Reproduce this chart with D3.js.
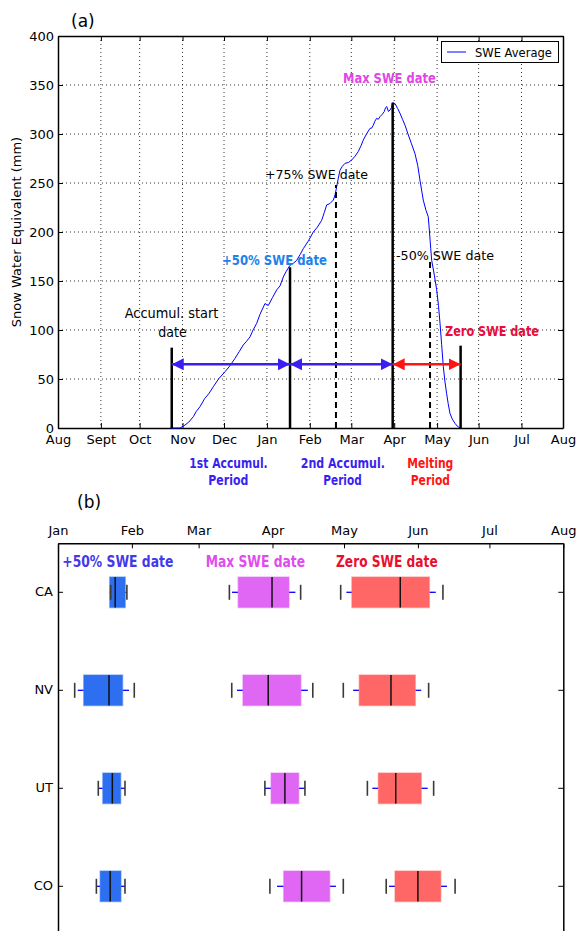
<!DOCTYPE html>
<html><head><meta charset="utf-8">
<script src="https://cdn.jsdelivr.net/npm/d3@7"></script>
<style>
body{margin:0;background:#fff;}
svg{display:block;}
text{font-family:"DejaVu Sans",sans-serif;}
</style></head>
<body>
<svg id="chart" width="576" height="931"></svg>
<script>
// ---------- Panel (a) data: days since Aug 1 ----------
const monthTickDaysA = [0,31,59,90,120,151,182,212,243,274,304,335,365];
const monthLabelsA = ["Aug","Sept","Oct","Nov","Dec","Jan","Feb","Mar","Apr","May","Jun","Jul","Aug"];
const sweTicks = [0,50,100,150,200,250,300,350,400];
const curveDays = [81.5,88.2,91.8,94.5,97.8,100,102.6,106,109,112.2,116,120.7,124,127.9,131,133.9,136,138.8,141,143.6,146,149.6,152.0,155,158.1,160.5,162.8,165,167.7,170,172.5,175,177.3,181,184.5,187.5,190.6,192.5,194.2,196.5,199.0,200.3,201.4,202.6,203.8,205.5,207.4,210,212.3,214.5,217.0,219,220.7,223,225.5,226.7,227.9,229,230.3,231.5,232.7,234.3,235.8,236.8,237.6,238.8,240.0,241.0,241.9,243.6,245.5,247.2,249,250.8,252,253.2,255.5,258.0,260,261.6,264.0,266,267.6,268.5,269.4,270.1,272,273.7,275,276.1,277.3,278.5,279.7,280.9,282,283.3,285,286.9,288.5,290.5];
const curveSWE  = [0,0,3,6,11.5,17,21.7,30,35,42,50,57.4,63,71,78,84.7,88,93,100,106.8,116,127,125,133,141,145,154,160,166,168,171,177,183,191,200,205,212,220,227.6,229,232.6,238,246,255,263,267,270,271,273.5,277,282,288,294,300,305.8,306,309,313,316,315,317.7,320,322.8,327,328,323,324.5,327,332,331,326,321,315,309,304,299,290,280,268,253,232.6,222,215.6,200,183,171,156,141,125,107,85,62.5,47,35,25,15,9,4.8,2,0];
const eventNames = ["Accumul. start","+50% SWE","+75% SWE","Max SWE","-50% SWE","Zero SWE"];
const eventDays  = [82.2,167.7,200.9,241.9,268.9,291.0];
const eventTops  = [82,164,248,332,170,84];
const eventDashed= [false,false,true,false,true,false];
const periodNames = ["1st Accumul.","2nd Accumul.","Melting"];
const periodStart = [82.2,167.7,241.9];
const periodEnd   = [167.7,241.9,291.0];
const arrowSWE = 65;

// ---------- Panel (b) data: days since Jan 1 ----------
const monthTickDaysB = [0,31,59,90,120,151,181,212];
const monthLabelsB = ["Jan","Feb","Mar","Apr","May","Jun","Jul","Aug"];
const states = ["CA","NV","UT","CO"];
const groupNames = ["+50% SWE date","Max SWE date","Zero SWE date"];
// per state: [min mark, whisker low, Q1, median, Q3, whisker high, max mark]
const half50 = [
  [22.1,22.1,21.7,24.0,28.2,28.9,28.9],
  [7.0,8.3,10.8,21.4,27.1,29.8,32.0],
  [16.9,16.9,18.8,22.8,26.3,28.0,28.1],
  [16.1,16.1,17.7,21.9,26.4,28.1,28.1]
];
const maxSWE = [
  [71.9,73.0,75.6,89.8,96.9,99.6,101.8],
  [72.9,75.1,77.6,88.2,101.9,104.8,106.9],
  [86.8,86.8,89.4,95.2,101.0,103.6,103.6],
  [88.9,91.9,94.7,102.2,114.0,116.6,119.7]
];
const zeroSWE = [
  [118.6,121.0,123.3,143.6,155.8,158.5,161.5],
  [119.7,123.8,126.4,139.7,149.9,152.4,155.5],
  [129.8,131.9,134.4,141.7,152.4,155.1,157.6],
  [137.7,138.9,141.4,151.0,160.6,163.2,166.6]
];
const groupData = [half50, maxSWE, zeroSWE];

// ---------------- drawing ----------------
const svg = d3.select("#chart");
const defs = svg.append("defs");
function arrowMarker(id, color){
  defs.append("marker").attr("id",id).attr("viewBox","0 0 12 12")
    .attr("refX",12).attr("refY",6).attr("markerWidth",12).attr("markerHeight",12)
    .attr("markerUnits","userSpaceOnUse").attr("orient","auto-start-reverse")
    .append("path").attr("d","M0,0 L12,6 L0,12 Z").attr("fill",color);
}
const blueArrow = "#3c1ef2", redArrow = "#ff1414";
arrowMarker("arrB", blueArrow);
arrowMarker("arrR", redArrow);

// ===== Panel (a) =====
const L=58, R=563, T=36, B=428;
const xA = d3.scaleLinear().domain([0,365]).range([L,R]);
const yA = d3.scaleLinear().domain([0,400]).range([B,T]);
const gA = svg.append("g");

// grid
gA.append("g").selectAll("line").data(monthTickDaysA.slice(1,-1)).join("line")
  .attr("x1",d=>xA(d)).attr("x2",d=>xA(d)).attr("y1",T).attr("y2",B)
  .attr("stroke","#000").attr("stroke-width",0.8).attr("stroke-dasharray","1,3");
gA.append("g").selectAll("line").data(sweTicks.slice(1,-1)).join("line")
  .attr("y1",d=>yA(d)).attr("y2",d=>yA(d)).attr("x1",L).attr("x2",R)
  .attr("stroke","#000").attr("stroke-width",0.8).attr("stroke-dasharray","1,3");

// axes
const axBot = gA.append("g").attr("transform",`translate(0,${B})`)
  .call(d3.axisBottom(xA).tickValues(monthTickDaysA).tickFormat((d,i)=>monthLabelsA[i]).tickSizeInner(-5).tickSizeOuter(0).tickPadding(7));
const axLeft = gA.append("g").attr("transform",`translate(${L},0)`)
  .call(d3.axisLeft(yA).tickValues(sweTicks).tickSizeInner(-5).tickSizeOuter(0).tickPadding(4));
const axTop = gA.append("g").attr("transform",`translate(0,${T})`)
  .call(d3.axisTop(xA).tickValues(monthTickDaysA).tickFormat("").tickSizeInner(-5).tickSizeOuter(0));
const axRight = gA.append("g").attr("transform",`translate(${R},0)`)
  .call(d3.axisRight(yA).tickValues(sweTicks).tickFormat("").tickSizeInner(-5).tickSizeOuter(0));
[axBot,axLeft,axTop,axRight].forEach(a=>{
  a.selectAll("text").attr("font-size",13).attr("font-family","DejaVu Sans").attr("fill","#000");
  a.select(".domain").attr("stroke","#000").attr("stroke-width",1.5);
  a.selectAll(".tick line").attr("stroke","#000").attr("stroke-width",1);
});

// y label
gA.append("text").attr("transform","translate(21,232) rotate(-90)")
  .attr("text-anchor","middle").attr("font-size",13).text("Snow Water Equivalent (mm)");
// (a)
svg.append("text").attr("x",71).attr("y",27).attr("font-size",17).text("(a)");

// curve
const line = d3.line().x((d,i)=>xA(curveDays[i])).y((d,i)=>yA(curveSWE[i]));
gA.append("path").attr("d",line(curveDays)).attr("fill","none").attr("stroke","#0000ff").attr("stroke-width",1);

// event lines
gA.append("g").selectAll("line").data(eventDays).join("line")
  .attr("x1",d=>xA(d)).attr("x2",d=>xA(d)).attr("y1",yA(0))
  .attr("y2",(d,i)=>yA(eventTops[i]))
  .attr("stroke","#000").attr("stroke-width",(d,i)=>eventDashed[i]?2:2.5)
  .attr("stroke-dasharray",(d,i)=>eventDashed[i]?"6,4":null);

// period arrows
gA.append("g").selectAll("line").data(periodStart).join("line")
  .attr("x1",d=>xA(d)).attr("x2",(d,i)=>xA(periodEnd[i]))
  .attr("y1",yA(arrowSWE)).attr("y2",yA(arrowSWE))
  .attr("stroke",(d,i)=>i===2?redArrow:blueArrow).attr("stroke-width",2.5)
  .attr("marker-start",(d,i)=>i===2?"url(#arrR)":"url(#arrB)")
  .attr("marker-end",(d,i)=>i===2?"url(#arrR)":"url(#arrB)");

// legend
const lg = svg.append("g");
lg.append("rect").attr("x",441.5).attr("y",41.5).attr("width",117).attr("height",21)
  .attr("fill","#fff").attr("stroke","#000").attr("stroke-width",1);
lg.append("line").attr("x1",447).attr("x2",466).attr("y1",52).attr("y2",52).attr("stroke","#0000ff").attr("stroke-width",1);
lg.append("text").attr("x",475).attr("y",56.5).attr("font-size",11.5).text("SWE Average");

// annotations
function bold(g,x,y,txt,color,size,len,anchor){
  const t = g.append("text").attr("x",x).attr("y",y).attr("fill",color)
    .attr("font-family","Open Sans").attr("font-weight",700).attr("font-size",size)
    .attr("text-anchor",anchor||"start").text(txt);
  if(len) t.attr("textLength",len).attr("lengthAdjust","spacingAndGlyphs");
  return t;
}
function plain(g,x,y,txt,size,len,anchor,fam){
  const t = g.append("text").attr("x",x).attr("y",y).attr("fill","#000")
    .attr("font-family",fam||"DejaVu Sans").attr("font-size",size)
    .attr("text-anchor",anchor||"start").text(txt);
  if(len) t.attr("textLength",len).attr("lengthAdjust","spacingAndGlyphs");
  return t;
}
plain(gA,124.7,318,"Accumul. start",14.5,93.6,"start","Open Sans");
plain(gA,158.3,336.5,"date",14.5,28.4,"start","Open Sans");
plain(gA,265,179,"+75% SWE date",13,103);
plain(gA,396,260,"-50% SWE date",13,98);
bold(gA,222,265,"+50% SWE date","#1e82ea",14.5,105);
bold(gA,343,83,"Max SWE date","#e244e6",14.5,92.7);
bold(gA,445,335.5,"Zero SWE date","#ea0a3c",14.5,94);
bold(gA,189.3,468,"1st Accumul.","#3a1ff0",14.5,78.4);
bold(gA,208.3,485,"Period","#3a1ff0",14.5,40);
bold(gA,300.7,468,"2nd Accumul.","#3a1ff0",14.5,84.3);
bold(gA,323.3,485,"Period","#3a1ff0",14.5,38.4);
bold(gA,407.3,468,"Melting","#ff1414",14.5,46);
bold(gA,410.7,485,"Period","#ff1414",14.5,39.3);

// ===== Panel (b) =====
const LB=58, RB=563.3, TB=543.3;
const xB = d3.scaleLinear().domain([0,212]).range([LB,RB]);
const yB = d3.scaleBand().domain(states).range([TB,TB+392]);
const gB = svg.append("g");
svg.append("text").attr("x",77).attr("y",508).attr("font-size",17).text("(b)");

const bTop = gB.append("g").attr("transform",`translate(0,${TB})`)
  .call(d3.axisTop(xB).tickValues(monthTickDaysB).tickFormat((d,i)=>monthLabelsB[i]).tickSizeInner(-5).tickSizeOuter(0).tickPadding(8));
const bLeft = gB.append("g").attr("transform",`translate(${LB},0)`)
  .call(d3.axisLeft(yB).tickSizeInner(-5).tickSizeOuter(0).tickPadding(5));
const bRight = gB.append("g").attr("transform",`translate(${RB},0)`)
  .call(d3.axisRight(yB).tickFormat("").tickSizeInner(-5).tickSizeOuter(0));
[bTop,bLeft,bRight].forEach(a=>{
  a.selectAll("text").attr("font-size",13).attr("font-family","DejaVu Sans").attr("fill","#000");
  a.select(".domain").attr("stroke","#000").attr("stroke-width",1.5);
  a.selectAll(".tick line").attr("stroke","#000").attr("stroke-width",1);
});

const boxFill = ["#2d6ff0","#e066f4","#ff6666"];
const labelCol = ["#4538ea","#e04cf0","#e8102e"];
const labelX = [62.3,205.7,336];
const labelW = [111,99.3,101.7];
groupNames.forEach((n,i)=>bold(gB,labelX[i],567,n,labelCol[i],16,labelW[i]));

const bh = 30.5, capH = 15;
groupData.forEach((arr,gi)=>{
  const g = gB.append("g");
  const rows = g.selectAll("g").data(arr).join("g")
    .attr("transform",(d,i)=>`translate(0,${yB(states[i])+yB.bandwidth()/2})`);
  // whiskers
  rows.append("line").attr("x1",d=>xB(d[1])).attr("x2",d=>xB(d[2])).attr("y1",0).attr("y2",0)
    .attr("stroke","#0000ff").attr("stroke-width",1.3);
  rows.append("line").attr("x1",d=>xB(d[4])).attr("x2",d=>xB(d[5])).attr("y1",0).attr("y2",0)
    .attr("stroke","#0000ff").attr("stroke-width",1.3);
  // box
  rows.append("rect").attr("x",d=>xB(d[2])).attr("width",d=>xB(d[4])-xB(d[2]))
    .attr("y",-bh/2).attr("height",bh).attr("fill",boxFill[gi])
    .attr("stroke",boxFill[gi]).attr("stroke-opacity",0.45).attr("stroke-width",1.5);
  // median
  rows.append("line").attr("x1",d=>xB(d[3])).attr("x2",d=>xB(d[3])).attr("y1",-bh/2).attr("y2",bh/2)
    .attr("stroke","#111").attr("stroke-width",1.5);
  // min / max marks
  rows.append("line").attr("x1",d=>xB(d[0])).attr("x2",d=>xB(d[0])).attr("y1",-capH/2).attr("y2",capH/2)
    .attr("stroke","#3a3a3a").attr("stroke-width",1.6);
  rows.append("line").attr("x1",d=>xB(d[6])).attr("x2",d=>xB(d[6])).attr("y1",-capH/2).attr("y2",capH/2)
    .attr("stroke","#3a3a3a").attr("stroke-width",1.6);
});
</script>
</body></html>
